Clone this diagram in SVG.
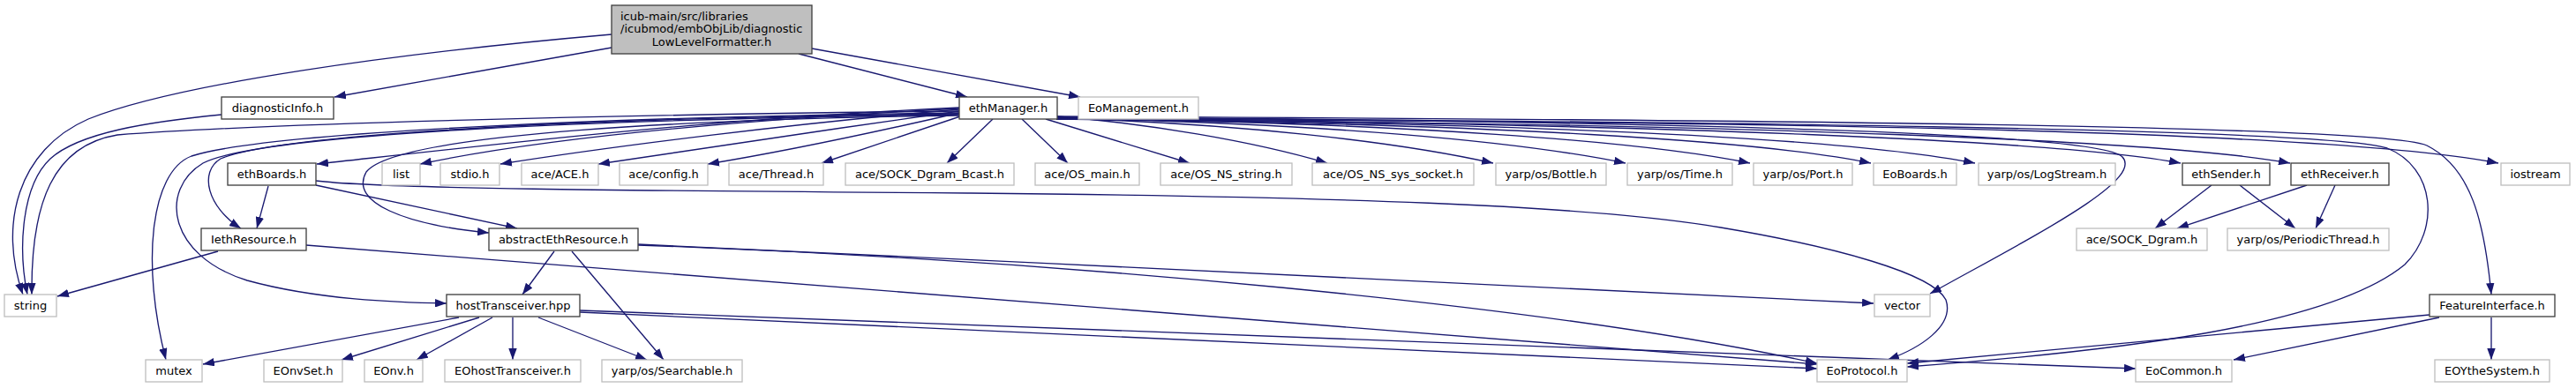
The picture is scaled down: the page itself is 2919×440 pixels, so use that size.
<svg xmlns="http://www.w3.org/2000/svg" width="2919" height="440" viewBox="0 0 2919 440">
<style>
text{font-family:"DejaVu Sans","Liberation Sans",sans-serif;font-size:13px;fill:#000;text-anchor:middle}
.doc rect{fill:#fff;stroke:#404040;stroke-width:1.33}
.ext rect{fill:#fff;stroke:#bfbfbf;stroke-width:1.33}
.root rect{fill:#bfbfbf;stroke:#404040;stroke-width:1.33}
#edges path{fill:none;stroke:#191970;stroke-width:1.33;marker-end:url(#a)}
</style>
<defs>
<marker id="a" markerUnits="userSpaceOnUse" markerWidth="13" markerHeight="9.4" refX="13" refY="4.7" orient="auto" viewBox="0 0 13 9.4"><path d="M0,0L13,4.7L0,9.4z" fill="#191970"/></marker>
</defs>
<rect width="2919" height="440" fill="#fff"/>
<g id="edges">
<path d="M693,54 L379,110"/>
<path d="M905,61 L1096,110"/>
<path d="M920,55 L1224,110"/>
<path d="M693,39 C450,60 200,95 100,135 C20,170 -2,255 26,334"/>
<path d="M251,130 C170,138 90,150 57,180 C25,210 20,280 31,334"/>
<path d="M1087,126 C700,130 300,140 133,153 C60,165 35,230 36,334"/>
<path d="M1087,128 C700,132 300,150 217,177 C170,195 160,300 188,408"/>
<path d="M1087,129 C700,133 320,150 250,180 C225,195 235,235 273,259"/>
<path d="M1087,130 C700,135 300,150 230,185 C180,215 190,290 280,318 C360,340 450,343 506,344"/>
<path d="M1087,131 C800,135 450,150 415,195 C395,230 460,255 554,264"/>
<path d="M1087,122 C800,135 550,165 359,186"/>
<path d="M1087,123 C800,138 600,160 476,186"/>
<path d="M1087,124 C900,140 700,165 567,186"/>
<path d="M1087,126 C950,145 800,168 678,186"/>
<path d="M1087,128 C1000,148 900,170 802,186"/>
<path d="M1088,132 L931,185"/>
<path d="M1125,135 L1073,185"/>
<path d="M1158,135 L1210,185"/>
<path d="M1185,135 L1348,185"/>
<path d="M1198,132 C1300,140 1420,160 1504,185"/>
<path d="M1197,134 C1400,140 1580,160 1692,185"/>
<path d="M1197,134 C1500,140 1720,160 1842,185"/>
<path d="M1197,134 C1600,140 1860,160 1983,185"/>
<path d="M1197,135 C1700,140 2000,160 2120,185"/>
<path d="M1197,135 C1800,140 2110,160 2238,185"/>
<path d="M1197,135 C1900,140 2340,160 2471,185"/>
<path d="M1197,135 C2000,140 2460,160 2595,185"/>
<path d="M1197,135 C2100,138 2650,150 2831,185"/>
<path d="M1197,133 C1900,138 2380,150 2405,178 C2430,205 2300,270 2187,333"/>
<path d="M1197,133 C1900,138 2640,145 2705,168 C2760,190 2765,260 2725,300 C2640,370 2400,398 2161,416"/>
<path d="M1197,132 C2000,136 2700,142 2750,165 C2800,190 2815,250 2823,334"/>
<path d="M304,211 L291,259"/>
<path d="M358,210 L586,259"/>
<path d="M358,205 C430,214 700,216 1100,219 C1500,223 1800,232 1950,258 C2080,280 2190,310 2205,340 C2215,370 2175,395 2139,408"/>
<path d="M247,285 L65,336"/>
<path d="M347,278 L2059,413"/>
<path d="M628,285 L592,334"/>
<path d="M648,285 L752,408"/>
<path d="M723,277 C1200,300 1800,325 2123,344"/>
<path d="M723,278 C1200,295 1750,345 2059,412"/>
<path d="M520,360 L230,413"/>
<path d="M543,360 L387,408"/>
<path d="M558,360 L472,408"/>
<path d="M581,360 L581,408"/>
<path d="M610,360 L733,408"/>
<path d="M657,352 L2420,418"/>
<path d="M657,354 L2059,418"/>
<path d="M2506,210 L2442,259"/>
<path d="M2538,210 L2601,259"/>
<path d="M2614,210 L2467,259"/>
<path d="M2646,210 L2624,259"/>
<path d="M2753,357 L2161,412"/>
<path d="M2764,360 L2531,408"/>
<path d="M2823,360 L2823,408"/>
</g>
<g id="n0" class="root"><rect x="693" y="6" width="227" height="55"/><text x="703" y="22.5" style="text-anchor:start">icub-main/src/libraries</text><text x="703" y="37" style="text-anchor:start">/icubmod/embObjLib/diagnostic</text><text x="806.5" y="51.5">LowLevelFormatter.h</text></g>
<g id="n1" class="doc"><rect x="251" y="110" width="127" height="25"/><text x="314.5" y="126.7">diagnosticInfo.h</text></g>
<g id="n2" class="doc"><rect x="1087" y="110" width="111" height="25"/><text x="1142.5" y="126.7">ethManager.h</text></g>
<g id="n3" class="ext"><rect x="1222" y="110" width="136" height="25"/><text x="1290" y="126.7">EoManagement.h</text></g>
<g id="n4" class="doc"><rect x="258" y="185" width="100" height="25"/><text x="308" y="201.7">ethBoards.h</text></g>
<g id="n5" class="ext"><rect x="433" y="185" width="43" height="25"/><text x="454.5" y="201.7">list</text></g>
<g id="n6" class="ext"><rect x="499" y="185" width="67" height="25"/><text x="532.5" y="201.7">stdio.h</text></g>
<g id="n7" class="ext"><rect x="591" y="185" width="87" height="25"/><text x="634.5" y="201.7">ace/ACE.h</text></g>
<g id="n8" class="ext"><rect x="702" y="185" width="100" height="25"/><text x="752" y="201.7">ace/config.h</text></g>
<g id="n9" class="ext"><rect x="826" y="185" width="107" height="25"/><text x="879.5" y="201.7">ace/Thread.h</text></g>
<g id="n10" class="ext"><rect x="958" y="185" width="191" height="25"/><text x="1053.5" y="201.7">ace/SOCK_Dgram_Bcast.h</text></g>
<g id="n11" class="ext"><rect x="1173" y="185" width="118" height="25"/><text x="1232" y="201.7">ace/OS_main.h</text></g>
<g id="n12" class="ext"><rect x="1315" y="185" width="149" height="25"/><text x="1389.5" y="201.7">ace/OS_NS_string.h</text></g>
<g id="n13" class="ext"><rect x="1487" y="185" width="183" height="25"/><text x="1578.5" y="201.7">ace/OS_NS_sys_socket.h</text></g>
<g id="n14" class="ext"><rect x="1695" y="185" width="125" height="25"/><text x="1757.5" y="201.7">yarp/os/Bottle.h</text></g>
<g id="n15" class="ext"><rect x="1844" y="185" width="119" height="25"/><text x="1903.5" y="201.7">yarp/os/Time.h</text></g>
<g id="n16" class="ext"><rect x="1987" y="185" width="112" height="25"/><text x="2043" y="201.7">yarp/os/Port.h</text></g>
<g id="n17" class="ext"><rect x="2123" y="185" width="94" height="25"/><text x="2170" y="201.7">EoBoards.h</text></g>
<g id="n18" class="ext"><rect x="2242" y="185" width="155" height="25"/><text x="2319.5" y="201.7">yarp/os/LogStream.h</text></g>
<g id="n19" class="doc"><rect x="2473" y="185" width="99" height="25"/><text x="2522.5" y="201.7">ethSender.h</text></g>
<g id="n20" class="doc"><rect x="2596" y="185" width="111" height="25"/><text x="2651.5" y="201.7">ethReceiver.h</text></g>
<g id="n21" class="ext"><rect x="2834" y="185" width="78" height="25"/><text x="2873" y="201.7">iostream</text></g>
<g id="n22" class="doc"><rect x="228" y="259" width="119" height="25"/><text x="287.5" y="275.7">IethResource.h</text></g>
<g id="n23" class="doc"><rect x="554" y="259" width="169" height="25"/><text x="638.5" y="275.7">abstractEthResource.h</text></g>
<g id="n24" class="ext"><rect x="2353" y="259" width="148" height="25"/><text x="2427" y="275.7">ace/SOCK_Dgram.h</text></g>
<g id="n25" class="ext"><rect x="2524" y="259" width="183" height="25"/><text x="2615.5" y="275.7">yarp/os/PeriodicThread.h</text></g>
<g id="n26" class="ext"><rect x="5" y="334" width="59" height="25"/><text x="34.5" y="350.7">string</text></g>
<g id="n27" class="doc"><rect x="506" y="334" width="151" height="25"/><text x="581.5" y="350.7">hostTransceiver.hpp</text></g>
<g id="n28" class="ext"><rect x="2124" y="334" width="63" height="25"/><text x="2155.5" y="350.7">vector</text></g>
<g id="n29" class="doc"><rect x="2753" y="334" width="142" height="25"/><text x="2824" y="350.7">FeatureInterface.h</text></g>
<g id="n30" class="ext"><rect x="165" y="408" width="64" height="25"/><text x="197" y="424.7">mutex</text></g>
<g id="n31" class="ext"><rect x="299" y="408" width="89" height="25"/><text x="343.5" y="424.7">EOnvSet.h</text></g>
<g id="n32" class="ext"><rect x="413" y="408" width="66" height="25"/><text x="446" y="424.7">EOnv.h</text></g>
<g id="n33" class="ext"><rect x="504" y="408" width="154" height="25"/><text x="581" y="424.7">EOhostTransceiver.h</text></g>
<g id="n34" class="ext"><rect x="682" y="408" width="159" height="25"/><text x="761.5" y="424.7">yarp/os/Searchable.h</text></g>
<g id="n35" class="ext"><rect x="2059" y="408" width="102" height="25"/><text x="2110" y="424.7">EoProtocol.h</text></g>
<g id="n36" class="ext"><rect x="2420" y="408" width="109" height="25"/><text x="2474.5" y="424.7">EoCommon.h</text></g>
<g id="n37" class="ext"><rect x="2759" y="408" width="130" height="25"/><text x="2824" y="424.7">EOYtheSystem.h</text></g>
</svg>
